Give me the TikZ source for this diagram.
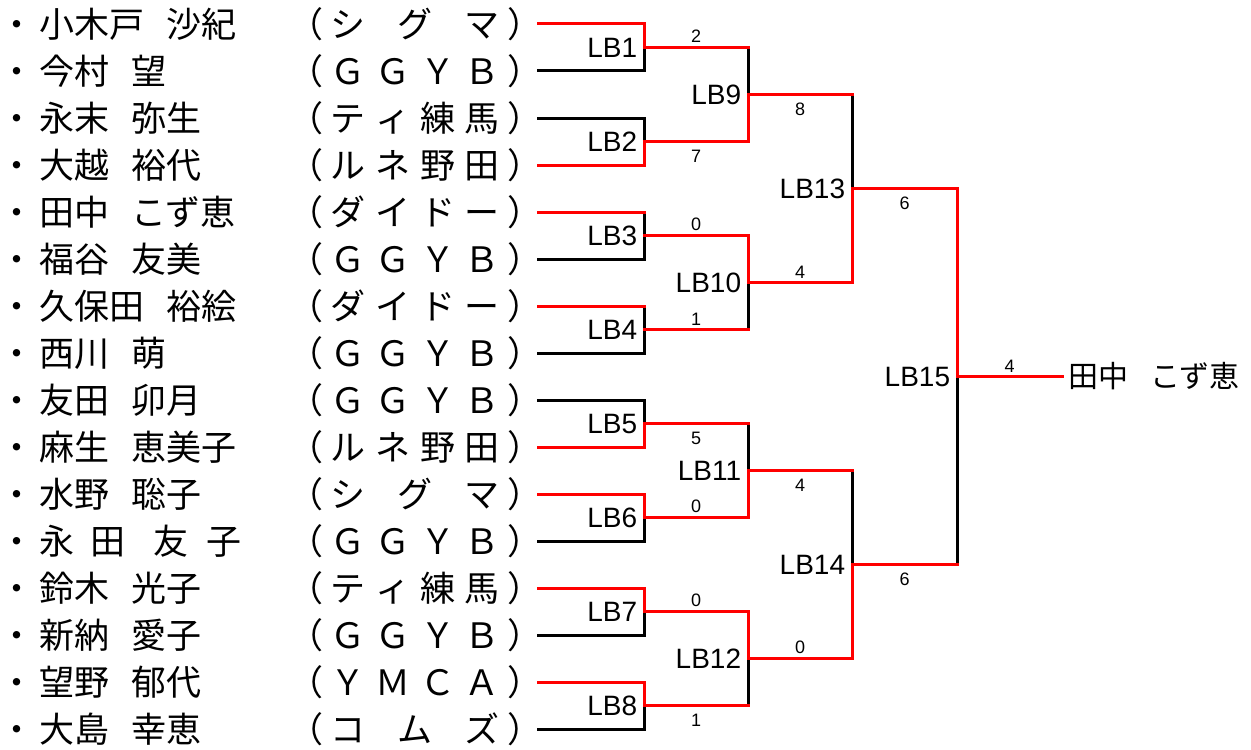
\documentclass[tikz,border=0pt]{standalone}
\usepackage{fontspec}
\setmainfont{Liberation Sans}
\newfontfamily\jpfont{Noto Sans CJK JP}
\usetikzlibrary{positioning}

\newcommand{\clubname}[1]{（\hspace{3.75pt}\makebox[84.5pt][s]{#1}\hspace{3.75pt}）}

\tikzset{
  win/.style={draw=red, line width=1.5pt, line cap=rect},
  lose/.style={draw=black, line width=1.5pt, line cap=rect},
  player/.style={anchor=west, inner sep=0pt, font=\jpfont\fontsize{17.5pt}{20pt}\selectfont},
  club/.style={anchor=west, inner sep=0pt, font=\jpfont\fontsize{17.5pt}{20pt}\selectfont},
  champ/.style={anchor=west, inner sep=3pt, font=\jpfont\fontsize{15pt}{18pt}\selectfont},
  match/.style={anchor=east, inner sep=0pt, xshift=-3.25pt, font=\fontsize{14pt}{16pt}\selectfont},
  scoreup/.style={above=1.5pt, inner sep=0pt, font=\fontsize{9pt}{10pt}\selectfont},
  scoredown/.style={below=3.5pt, inner sep=0pt, font=\fontsize{9pt}{10pt}\selectfont}
}

\begin{document}
\begin{tikzpicture}[x=0.5pt, y=-0.5pt]
  \useasboundingbox (0,0) rectangle (1251,749);

  % Players
  \node[player] (n1) at (-1,24) {・\hspace{2.5pt}小木戸\hspace{11pt}沙紀};
  \node[player] (n2) at (-1,71) {・\hspace{2.5pt}今村\hspace{11pt}望};
  \node[player] (n3) at (-1,118) {・\hspace{2.5pt}永末\hspace{11pt}弥生};
  \node[player] (n4) at (-1,165) {・\hspace{2.5pt}大越\hspace{11pt}裕代};
  \node[player] (n5) at (-1,212) {・\hspace{2.5pt}田中\hspace{11pt}こず恵};
  \node[player] (n6) at (-1,259) {・\hspace{2.5pt}福谷\hspace{11pt}友美};
  \node[player] (n7) at (-1,306) {・\hspace{2.5pt}久保田\hspace{11pt}裕絵};
  \node[player] (n8) at (-1,353) {・\hspace{2.5pt}西川\hspace{11pt}萌};
  \node[player] (n9) at (-1,400) {・\hspace{2.5pt}友田\hspace{11pt}卯月};
  \node[player] (n10) at (-1,447) {・\hspace{2.5pt}麻生\hspace{11pt}恵美子};
  \node[player] (n11) at (-1,494) {・\hspace{2.5pt}水野\hspace{11pt}聡子};
  \node[player] (n12) at (-1,541) {・\hspace{2.5pt}永\hspace{8pt}田\hspace{14pt}友\hspace{9pt}子};
  \node[player] (n13) at (-1,588) {・\hspace{2.5pt}鈴木\hspace{11pt}光子};
  \node[player] (n14) at (-1,635) {・\hspace{2.5pt}新納\hspace{11pt}愛子};
  \node[player] (n15) at (-1,682) {・\hspace{2.5pt}望野\hspace{11pt}郁代};
  \node[player] (n16) at (-1,729) {・\hspace{2.5pt}大島\hspace{11pt}幸恵};

  % Clubs
  \node[club] (c1) at (288,24) {\clubname{シ\hfill グ\hfill マ}};
  \node[club] (c2) at (288,71) {\clubname{Ｇ\hfill Ｇ\hfill Ｙ\hfill Ｂ}};
  \node[club] (c3) at (288,118) {\clubname{テ\hfill ィ\hfill 練\hfill 馬}};
  \node[club] (c4) at (288,165) {\clubname{ル\hfill ネ\hfill 野\hfill 田}};
  \node[club] (c5) at (288,212) {\clubname{ダ\hfill イ\hfill ド\hfill ー}};
  \node[club] (c6) at (288,259) {\clubname{Ｇ\hfill Ｇ\hfill Ｙ\hfill Ｂ}};
  \node[club] (c7) at (288,306) {\clubname{ダ\hfill イ\hfill ド\hfill ー}};
  \node[club] (c8) at (288,353) {\clubname{Ｇ\hfill Ｇ\hfill Ｙ\hfill Ｂ}};
  \node[club] (c9) at (288,400) {\clubname{Ｇ\hfill Ｇ\hfill Ｙ\hfill Ｂ}};
  \node[club] (c10) at (288,447) {\clubname{ル\hfill ネ\hfill 野\hfill 田}};
  \node[club] (c11) at (288,494) {\clubname{シ\hfill グ\hfill マ}};
  \node[club] (c12) at (288,541) {\clubname{Ｇ\hfill Ｇ\hfill Ｙ\hfill Ｂ}};
  \node[club] (c13) at (288,588) {\clubname{テ\hfill ィ\hfill 練\hfill 馬}};
  \node[club] (c14) at (288,635) {\clubname{Ｇ\hfill Ｇ\hfill Ｙ\hfill Ｂ}};
  \node[club] (c15) at (288,682) {\clubname{Ｙ\hfill Ｍ\hfill Ｃ\hfill Ａ}};
  \node[club] (c16) at (288,729) {\clubname{コ\hfill ム\hfill ズ}};

  % Line starts
  \coordinate (p1) at (538,24);
  \coordinate (p2) at (538,71);
  \coordinate (p3) at (538,118);
  \coordinate (p4) at (538,165);
  \coordinate (p5) at (538,212);
  \coordinate (p6) at (538,259);
  \coordinate (p7) at (538,306);
  \coordinate (p8) at (538,353);
  \coordinate (p9) at (538,400);
  \coordinate (p10) at (538,447);
  \coordinate (p11) at (538,494);
  \coordinate (p12) at (538,541);
  \coordinate (p13) at (538,588);
  \coordinate (p14) at (538,635);
  \coordinate (p15) at (538,682);
  \coordinate (p16) at (538,729);

  % Matches
  \coordinate (m1) at (644,47.5);
  \coordinate (m2) at (644,141.5);
  \coordinate (m3) at (644,235.5);
  \coordinate (m4) at (644,329.5);
  \coordinate (m5) at (644,423.5);
  \coordinate (m6) at (644,517.5);
  \coordinate (m7) at (644,611.5);
  \coordinate (m8) at (644,705.5);
  \coordinate (m9) at (748,94.5);
  \coordinate (m10) at (748,282.5);
  \coordinate (m11) at (748,470.5);
  \coordinate (m12) at (748,658.5);
  \coordinate (m13) at (852,188.5);
  \coordinate (m14) at (852,564.5);
  \coordinate (m15) at (957,376.5);

  \node[match] (lb1) at (m1) {LB1};
  \node[match] (lb2) at (m2) {LB2};
  \node[match] (lb3) at (m3) {LB3};
  \node[match] (lb4) at (m4) {LB4};
  \node[match] (lb5) at (m5) {LB5};
  \node[match] (lb6) at (m6) {LB6};
  \node[match] (lb7) at (m7) {LB7};
  \node[match] (lb8) at (m8) {LB8};
  \node[match] (lb9) at (m9) {LB9};
  \node[match] (lb10) at (m10) {LB10};
  \node[match] (lb11) at (m11) {LB11};
  \node[match] (lb12) at (m12) {LB12};
  \node[match] (lb13) at (m13) {LB13};
  \node[match] (lb14) at (m14) {LB14};
  \node[match] (lb15) at (m15) {LB15};

  \node[champ] (champ) at (1062,376.5) {田中\hspace{11pt}こず恵};

  % Round 1
  \draw[lose] (p2) -| (m1);
  \draw[win] (p1) -| (m1);
  \draw[lose] (p3) -| (m2);
  \draw[win] (p4) -| (m2);
  \draw[lose] (p5) -| (m3);
  \draw[lose] (p6) -| (m3);
  \draw[win] (p5) -- (p5 -| m3);
  \draw[lose] (p7) -| (m4);
  \draw[lose] (p8) -| (m4);
  \draw[win] (p7) -- (p7 -| m4);
  \draw[lose] (p9) -| (m5);
  \draw[win] (p10) -| (m5);
  \draw[lose] (p12) -| (m6);
  \draw[win] (p11) -| (m6);
  \draw[lose] (p14) -| (m7);
  \draw[win] (p13) -| (m7);
  \draw[lose] (p16) -| (m8);
  \draw[win] (p15) -| (m8);

  % Round 2
  \draw[lose] (m1 -| m9) -- (m9);
  \draw[win] (m1) -- node[scoreup] {2} (m1 -| m9);
  \draw[win] (m2) -- node[scoredown] {7} (m2 -| m9) -- (m9);
  \draw[lose] (m4 -| m10) -- (m10);
  \draw[win] (m3) -- node[scoreup] {0} (m3 -| m10) -- (m10);
  \draw[win] (m4) -- node[scoreup] {1} (m4 -| m10);
  \draw[lose] (m5 -| m11) -- (m11);
  \draw[win] (m5) -- node[scoredown] {5} (m5 -| m11);
  \draw[win] (m6) -- node[scoreup] {0} (m6 -| m11) -- (m11);
  \draw[lose] (m8 -| m12) -- (m12);
  \draw[win] (m7) -- node[scoreup] {0} (m7 -| m12) -- (m12);
  \draw[win] (m8) -- node[scoredown] {1} (m8 -| m12);

  % Round 3
  \draw[lose] (m9 -| m13) -- (m13);
  \draw[win] (m9) -- node[scoredown] {8} (m9 -| m13);
  \draw[win] (m10) -- node[scoreup] {4} (m10 -| m13) -- (m13);
  \draw[lose] (m11 -| m14) -- (m14);
  \draw[win] (m11) -- node[scoredown] {4} (m11 -| m14);
  \draw[win] (m12) -- node[scoreup] {0} (m12 -| m14) -- (m14);

  % Final
  \draw[lose] (m14 -| m15) -- (m15);
  \draw[win] (m13) -- node[scoredown] {6} (m13 -| m15) -- (m15);
  \draw[win] (m14) -- node[scoredown] {6} (m14 -| m15);
  \draw[win] (m15) -- node[scoreup] {4} (champ.west);
\end{tikzpicture}
\end{document}
